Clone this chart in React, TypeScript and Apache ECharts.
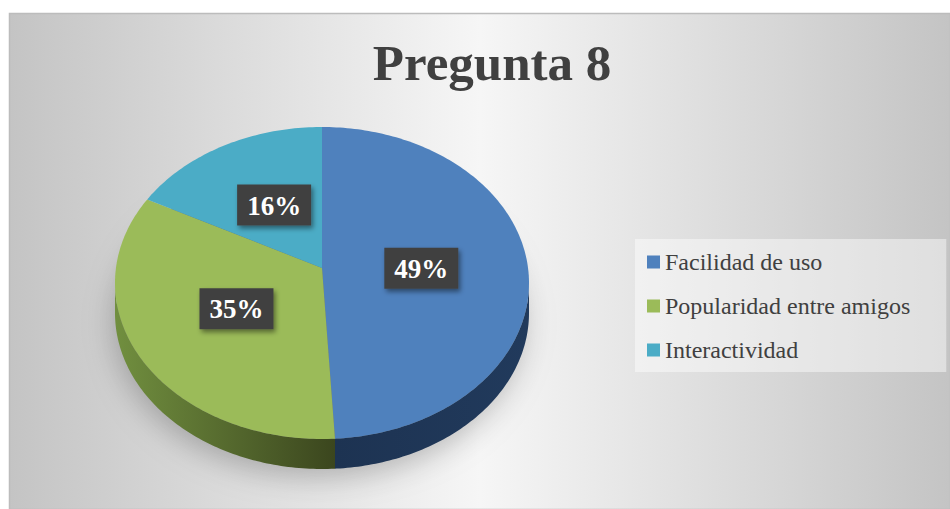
import React, { useEffect, useRef } from "react";
import * as echarts from "echarts";

const titleText = "Pregunta 8";
const categories = ["Facilidad de uso", "Popularidad entre amigos", "Interactividad"];
const percentages = [49, 35, 16];
const topColors = ["#4f81bd", "#9bbb59", "#4bacc6"];
const sideColors = [
  ["#1d3352", "#213a5c"],
  ["#718f3f", "#3b461e"],
  ["#2f7c90", "#23606f"],
];

export default function App() {
  const ref = useRef<HTMLDivElement>(null);
  useEffect(() => {
    const chart = echarts.init(ref.current!, null, { renderer: "svg" });
    const total = percentages.reduce((a, b) => a + b, 0);
    const starts: number[] = [];
    let acc = 0;
    percentages.forEach((v) => {
      starts.push(acc);
      acc += v;
    });

    const cx = 322, cy = 283, rx = 207, ry = 156, apexY = 268, depth = 30;
    const rim = (deg: number) => {
      const r = (deg * Math.PI) / 180;
      return [cx + rx * Math.sin(r), cy - ry * Math.cos(r)];
    };

    const series = categories.map((name, i) => ({
      type: "custom",
      name,
      coordinateSystem: "none",
      data: [percentages[i]],
      itemStyle: { color: topColors[i] },
      renderItem: (_params: any, api: any) => {
        const v = api.value(0);
        const a0 = (starts[i] / total) * 360;
        const a1 = a0 + (v / total) * 360;
        const children: any[] = [];
        const s0 = Math.max(a0, 90), s1 = Math.min(a1, 270);
        if (s1 > s0) {
          const upper: number[][] = [];
          for (let a = s0; a < s1; a += 1) upper.push(rim(a));
          upper.push(rim(s1));
          const lower = upper.map((p) => [p[0], p[1] + depth]).reverse();
          children.push({
            type: "polygon",
            shape: { points: upper.concat(lower) },
            style: {
              fill: new echarts.graphic.LinearGradient(0, 0, 1, 0, [
                { offset: 0, color: sideColors[i][0] },
                { offset: 1, color: sideColors[i][1] },
              ]),
            },
          });
        }
        const top: number[][] = [[cx, apexY]];
        for (let a = a0; a < a1; a += 1) top.push(rim(a));
        top.push(rim(a1));
        children.push({
          type: "polygon",
          shape: { points: top },
          style: { fill: topColors[i] },
        });
        const mid = (a0 + a1) / 2;
        const rp = rim(mid);
        const t = 0.48;
        const lx = cx + t * (rp[0] - cx);
        const ly = apexY + t * (rp[1] - apexY) - 5;
        children.push({
          type: "rect",
          z2: 10,
          shape: { x: lx - 37, y: ly - 20, width: 74, height: 41 },
          style: {
            fill: "#404040",
            shadowBlur: 5,
            shadowOffsetX: 2,
            shadowOffsetY: 3,
            shadowColor: "rgba(0,0,0,0.45)",
          },
        });
        children.push({
          type: "text",
          z2: 11,
          x: lx,
          y: ly + 1,
          style: {
            text: v + "%",
            fill: "#ffffff",
            fontFamily: "Liberation Serif",
            fontWeight: "bold",
            fontSize: 27,
            align: "center",
            verticalAlign: "middle",
          },
        });
        return { type: "group", children };
      },
    }));

    chart.setOption({
      animation: false,
      title: {
        text: titleText,
        left: 487,
        textAlign: "center",
        top: 32,
        textStyle: {
          fontFamily: "Liberation Serif",
          fontWeight: "bold",
          fontSize: 51,
          color: "#404040",
        },
      },
      legend: {
        orient: "vertical",
        left: 635,
        top: 239,
        selectedMode: false,
        icon: "rect",
        itemWidth: 13,
        itemHeight: 13,
        itemGap: 20,
        padding: [11, 36, 10, 12],
        backgroundColor: "rgba(255,255,255,0.45)",
        textStyle: {
          fontFamily: "Liberation Serif",
          fontSize: 24,
          color: "#404040",
          lineHeight: 24,
        },
        data: categories.map((n, i) => ({ name: n, itemStyle: { color: topColors[i] } })),
      },
      graphic: [
        {
          type: "rect",
          z: -10,
          shape: { x: 9.5, y: 13.5, width: 941, height: 496 },
          style: {
            fill: new echarts.graphic.LinearGradient(0, 0, 1, 0, [
              { offset: 0, color: "#c4c4c4" },
              { offset: 0.5, color: "#f6f6f6" },
              { offset: 1, color: "#c4c4c4" },
            ]),
            stroke: "#bcbcbc",
            lineWidth: 1.5,
          },
        },
        {
          type: "ellipse",
          z: -5,
          shape: { cx: cx, cy: cy + depth, rx: rx - 2, ry: ry - 2 },
          style: {
            fill: "rgba(0,0,0,0.35)",
            shadowBlur: 30,
            shadowOffsetX: -3,
            shadowOffsetY: 10,
            shadowColor: "rgba(0,0,0,0.7)",
          },
        },
      ],
      series,
    });
    return () => chart.dispose();
  }, []);
  return (
    <div
      ref={ref}
      style={{ position: "absolute", left: 0, top: 0, width: 950, height: 509 }}
    />
  );
}
